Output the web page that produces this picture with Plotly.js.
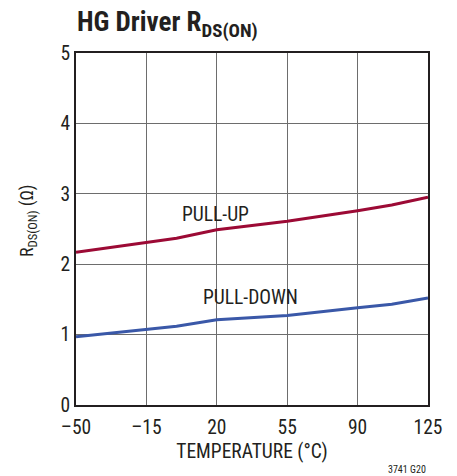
<!DOCTYPE html>
<html><head><meta charset="utf-8">
<script src="https://cdn.plot.ly/plotly-3.0.1.min.js"></script>
<style>body{margin:0;background:#fff}#c{width:457px;height:476px}</style>
</head><body><div id="c"></div>
<script>
var temps = [-50, -15, 0, 20, 55, 90, 107, 125];
var pullUp = [2.17, 2.31, 2.37, 2.49, 2.61, 2.76, 2.84, 2.95];
var pullDown = [0.97, 1.07, 1.12, 1.21, 1.27, 1.38, 1.43, 1.52];
var xTicks = [-50, -15, 20, 55, 90, 125];
var xTickText = ['\u201350', '\u201315', '20', '55', '90', '125'];
var yTicks = [0, 1, 2, 3, 4, 5];

var F = '"Liberation Sans Narrow", "Roboto Condensed", "Liberation Sans", Arial, sans-serif';
var traces = [
  {x: temps, y: pullUp, mode: 'lines', line: {color: '#9c0a35', width: 3}, hoverinfo: 'skip'},
  {x: temps, y: pullDown, mode: 'lines', line: {color: '#3a58a8', width: 3}, hoverinfo: 'skip'}
];
var layout = {
  width: 457, height: 476,
  margin: {l: 76, r: 29, t: 53, b: 71},
  paper_bgcolor: '#fff', plot_bgcolor: '#fff',
  showlegend: false,
  font: {family: F, color: '#231f20', size: 18},
  xaxis: {
    range: [-50, 125], tickvals: xTicks, ticktext: xTickText,
    showgrid: true, gridcolor: '#6d6d6d', gridwidth: 1,
    showline: true, linecolor: '#231f20', linewidth: 2, mirror: true,
    zeroline: false, ticks: 'outside', ticklen: 4, tickcolor: 'rgba(0,0,0,0)',
    tickfont: {family: F, size: 19.5, color: '#231f20'},
    title: {text: 'TEMPERATURE (\u00b0C)', font: {family: F, size: 19.5, color: '#231f20'}, standoff: 6}
  },
  yaxis: {
    range: [0, 5], tickvals: yTicks,
    showgrid: true, gridcolor: '#6d6d6d', gridwidth: 1,
    showline: true, linecolor: '#231f20', linewidth: 2, mirror: true,
    zeroline: false, ticks: '', ticklen: 0,
    tickfont: {family: F, size: 19.5, color: '#231f20'}
  },
  annotations: [
    {xref: 'paper', yref: 'paper', x: -0.003, y: 1.0, yshift: 29, xanchor: 'left', yanchor: 'middle',
     text: '<b>HG Driver R<sub>DS(ON)</sub></b>', showarrow: false,
     font: {family: F, size: 27, color: '#231f20'}},
    {xref: 'paper', yref: 'paper', x: 0, y: 0.5, xshift: -48, yshift: 8, xanchor: 'center', yanchor: 'middle',
     textangle: -90, text: 'R<sub>DS(ON)</sub> (\u03a9)', showarrow: false,
     font: {family: F, size: 18, color: '#231f20'}},
    {xref: 'x', yref: 'y', x: 19.5, y: 2.71, text: 'PULL-UP', showarrow: false,
     font: {family: F, size: 19.5, color: '#231f20'}},
    {xref: 'x', yref: 'y', x: 37, y: 1.52, text: 'PULL-DOWN', showarrow: false,
     font: {family: F, size: 19.5, color: '#231f20'}},
    {xref: 'paper', yref: 'paper', x: 1.0, y: 0, yshift: -64, xanchor: 'right', yanchor: 'middle',
     text: '3741 G20', showarrow: false, font: {family: F, size: 10, color: '#231f20'}}
  ]
};
Plotly.newPlot('c', traces, layout, {staticPlot: true, displayModeBar: false});
</script></body></html>
